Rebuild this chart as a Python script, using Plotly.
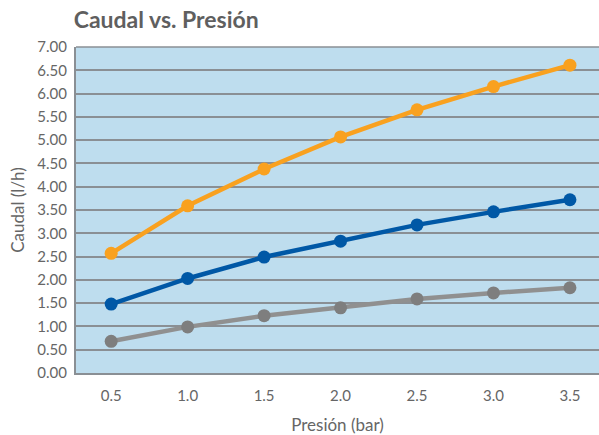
import plotly.graph_objects as go

presion = [0.5, 1.0, 1.5, 2.0, 2.5, 3.0, 3.5]
caudal_naranja = [2.57, 3.59, 4.38, 5.07, 5.65, 6.15, 6.61]
caudal_azul = [1.48, 2.03, 2.49, 2.83, 3.18, 3.46, 3.72]
caudal_gris = [0.68, 0.99, 1.23, 1.40, 1.59, 1.72, 1.83]
y_ticks = [i * 0.5 for i in range(15)]
x_ticks = presion

fig = go.Figure()
series = [
    (caudal_naranja, "#F9A11F", "#F9A11F"),
    (caudal_azul, "#0058A6", "#0058A6"),
    (caudal_gris, "#909090", "#7E7E7E"),
]
for vals, lc, mc in series:
    fig.add_trace(go.Scatter(
        x=presion, y=vals, mode="lines+markers",
        line=dict(color=lc, width=4.5),
        marker=dict(color=mc, size=13),
        showlegend=False, cliponaxis=False,
    ))

font = "Lato, 'Open Sans', sans-serif"
fig.update_layout(
    width=599, height=435,
    margin=dict(l=76, r=0, t=47, b=62),
    paper_bgcolor="white",
    plot_bgcolor="#BEDDEE",
    title=dict(text="<b>Caudal vs. Presión</b>", x=0.123, xanchor="left",
               y=0.955, yanchor="middle",
               font=dict(family=font, size=23, color="#5F5F5F")),
    xaxis=dict(range=[0.27, 3.69], tickvals=x_ticks,
               ticktext=[f"{v:.1f}" for v in x_ticks],
               showgrid=False, zeroline=False,
               showline=True, linecolor="#8A8F94", linewidth=2,
               ticks="", ticklabelstandoff=8,
               tickfont=dict(family=font, size=15, color="#666666"),
               title=dict(text="Presión (bar)", standoff=16,
                          font=dict(family=font, size=17, color="#666666"))),
    yaxis=dict(range=[0, 7], tickvals=y_ticks,
               ticktext=[f"{v:.2f}" for v in y_ticks],
               showgrid=True, gridcolor="#8A8F94", gridwidth=1.5,
               zeroline=False, showline=True, linecolor="#8A8F94", linewidth=2,
               mirror=False, ticks="", ticklabelstandoff=4,
               tickfont=dict(family=font, size=15, color="#666666"),
               title=dict(text="Caudal (l/h)", standoff=8,
                          font=dict(family=font, size=17, color="#666666"))),
)
fig.add_shape(type="line", xref="paper", yref="paper", x0=0, x1=1, y0=1, y1=1,
              line=dict(color="#8A8F94", width=1.5))
fig.write_html("out.html", config={"displayModeBar": False},
               post_script="document.body.style.margin='0px';document.body.style.overflow='hidden';")
